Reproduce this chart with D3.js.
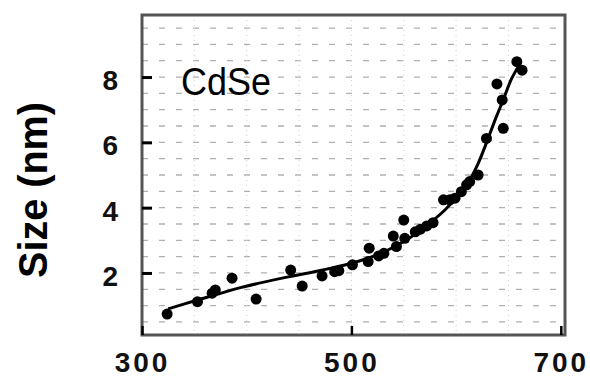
<!DOCTYPE html>
<html>
<head>
<meta charset="utf-8">
<script src="https://cdn.jsdelivr.net/npm/d3@7/dist/d3.min.js"></script>
<style>
  body { margin: 0; background: #fff; }
  text { font-family: "Liberation Sans", Arial, sans-serif; }
</style>
</head>
<body>
<div id="chart"></div>
<script>
// measured points (wavelength nm, size nm)
const wavelength = [324, 353, 367, 370, 386, 409, 442, 453, 472, 484, 488, 501, 516, 517, 526, 531,
                    540, 543, 550, 551, 561, 566, 572, 578, 588, 594, 599, 605, 610, 613, 621, 629,
                    645, 644, 639, 658, 663];
const size = [0.74, 1.12, 1.38, 1.48, 1.84, 1.20, 2.09, 1.60, 1.91, 2.04, 2.07, 2.25, 2.35, 2.76, 2.52, 2.60,
              3.13, 2.81, 3.62, 3.06, 3.26, 3.34, 3.44, 3.54, 4.24, 4.24, 4.29, 4.49, 4.70, 4.80, 5.00, 6.12,
              6.43, 7.30, 7.79, 8.47, 8.21];

// fitted curve
const fitWavelength = [325, 353, 369, 394, 435, 474, 506, 528, 547, 564, 577, 590, 601, 613, 621, 630, 638, 645, 653, 661];
const fitSize = [0.90, 1.17, 1.32, 1.55, 1.85, 2.10, 2.35, 2.60, 2.91, 3.25, 3.58, 3.95, 4.34, 4.85, 5.35, 6.07, 6.75, 7.30, 7.95, 8.40];

const xTicks = [300, 500, 700];
const yTicks = [2, 4, 6, 8];
const label = 'CdSe';
const yTitle = 'Size (nm)';

//svg size and margins
const w = 590;
const h = 377;
const margin = {top: 15, right: 25, bottom: 42, left: 142};
const plotWidth = w - margin.left - margin.right;
const plotHeight = h - margin.top - margin.bottom;

const svg = d3.select('#chart')
  .append('svg')
    .attr('width', w)
    .attr('height', h);

const g = svg.append('g')
  .attr('transform', 'translate(' + margin.left + ',' + margin.top + ')');

const xScale = d3.scaleLinear()
  .domain([300, 704])
  .range([0, plotWidth]);

const yScale = d3.scaleLinear()
  .domain([0.1, 9.9])
  .range([plotHeight, 0]);

// dotted background grid
g.append('g')
  .selectAll('line')
  .data(d3.range(0.5, 9.6, 0.5))
  .enter()
  .append('line')
    .attr('x1', 0)
    .attr('x2', plotWidth)
    .attr('y1', d => yScale(d))
    .attr('y2', d => yScale(d))
    .attr('stroke', '#b0b0b0')
    .attr('stroke-width', 1.3)
    .attr('stroke-dasharray', '6,11');

g.append('g')
  .selectAll('line')
  .data(d3.range(350, 700, 50))
  .enter()
  .append('line')
    .attr('x1', d => xScale(d))
    .attr('x2', d => xScale(d))
    .attr('y1', 0)
    .attr('y2', plotHeight)
    .attr('stroke', '#d0d0d0')
    .attr('stroke-width', 1)
    .attr('stroke-dasharray', '1,4');

// plot border
g.append('rect')
  .attr('x', 0)
  .attr('y', 0)
  .attr('width', plotWidth)
  .attr('height', plotHeight)
  .attr('fill', 'none')
  .attr('stroke', '#555')
  .attr('stroke-width', 3);

// axes with inward ticks
const yAxis = g.append('g')
  .call(d3.axisLeft(yScale).tickValues(yTicks).tickSizeInner(-10).tickSizeOuter(0).tickPadding(24));
yAxis.select('.domain').remove();
yAxis.selectAll('line').attr('stroke', '#000').attr('stroke-width', 3);
yAxis.selectAll('text')
  .attr('font-size', 28)
  .attr('font-weight', 'bold')
  .attr('fill', '#111')
  .attr('dy', '0.45em');

const xAxis = g.append('g')
  .attr('transform', 'translate(0,' + plotHeight + ')')
  .call(d3.axisBottom(xScale).tickValues(xTicks).tickSizeInner(-9).tickSizeOuter(0).tickPadding(17));
xAxis.select('.domain').remove();
xAxis.selectAll('line').attr('stroke', '#000').attr('stroke-width', 2.5);
xAxis.selectAll('text')
  .attr('font-size', 28)
  .attr('font-weight', 'bold')
  .attr('fill', '#111')
  .style('letter-spacing', '3px');

// fitted line
const fitData = fitWavelength.map((d, i) => ({x: d, y: fitSize[i]}));
const line = d3.line()
  .x(d => xScale(d.x))
  .y(d => yScale(d.y))
  .curve(d3.curveCatmullRom);

g.append('path')
  .datum(fitData)
  .attr('d', line)
  .attr('fill', 'none')
  .attr('stroke', '#000')
  .attr('stroke-width', 3);

// data points
const pts = wavelength.map((d, i) => ({x: d, y: size[i]}));
g.selectAll('circle')
  .data(pts)
  .enter()
  .append('circle')
    .attr('cx', d => xScale(d.x))
    .attr('cy', d => yScale(d.y))
    .attr('r', 5.5)
    .attr('fill', '#000');

// inner label
g.append('text')
  .attr('x', 181 - margin.left)
  .attr('y', 95 - margin.top)
  .attr('font-size', 38)
  .attr('textLength', 90)
  .attr('lengthAdjust', 'spacingAndGlyphs')
  .attr('fill', '#000')
  .text(label);

// y axis title
svg.append('text')
  .attr('transform', 'translate(47,190) rotate(-90)')
  .attr('text-anchor', 'middle')
  .attr('font-size', 41)
  .attr('font-weight', 'bold')
  .attr('textLength', 176)
  .attr('lengthAdjust', 'spacingAndGlyphs')
  .attr('fill', '#000')
  .text(yTitle);
</script>
</body>
</html>
